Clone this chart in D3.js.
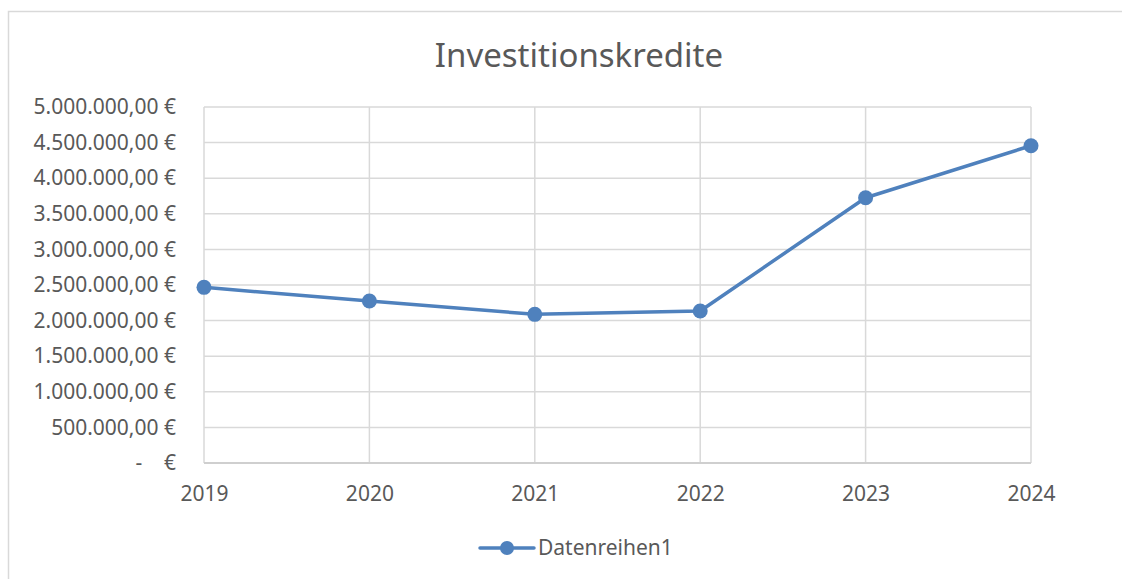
<!DOCTYPE html>
<html>
<head>
<meta charset="utf-8">
<script src="https://cdn.jsdelivr.net/npm/d3@7"></script>
<style>
  body { margin: 0; background: #fff; }
  svg text { font-family: "Noto Sans", "Open Sans", sans-serif; fill: #595959; }
</style>
</head>
<body>
<div id="chart"></div>
<script>
// data
var years = ["2019", "2020", "2021", "2022", "2023", "2024"];
var values = [2467000, 2275000, 2088000, 2135000, 3726000, 4456000];
var yTicks = [0, 500000, 1000000, 1500000, 2000000, 2500000, 3000000, 3500000, 4000000, 4500000, 5000000];
var seriesName = "Datenreihen1";
var title = "Investitionskredite";

var width = 1122, height = 579;
var margin = { top: 107, right: 91, bottom: 116, left: 204 };
var color = "#4f81bd";
var labelSize = 21;

var svg = d3.select("#chart")
    .append("svg")
    .attr("width", width)
    .attr("height", height);

// chart frame (right and bottom edges are cut off in the picture)
svg.append("rect")
    .attr("x", 8.5).attr("y", 11.5)
    .attr("width", width).attr("height", height)
    .attr("fill", "none")
    .attr("stroke", "#d9d9d9")
    .attr("stroke-width", 1.5);

var x = d3.scalePoint()
    .domain(years)
    .range([margin.left, width - margin.right]);

var y = d3.scaleLinear()
    .domain([0, d3.max(yTicks)])
    .range([height - margin.bottom, margin.top]);

var de = d3.formatLocale({ decimal: ",", thousands: ".", grouping: [3], currency: ["", " €"] });
var euro = de.format("$,.2f");

// horizontal gridlines
svg.append("g")
    .selectAll("line")
    .data(yTicks)
    .enter()
    .append("line")
    .attr("x1", x.range()[0]).attr("x2", x.range()[1])
    .attr("y1", function (d) { return y(d); })
    .attr("y2", function (d) { return y(d); })
    .attr("stroke", "#d9d9d9")
    .attr("stroke-width", 1.5);

// vertical gridlines
svg.append("g")
    .selectAll("line")
    .data(years)
    .enter()
    .append("line")
    .attr("x1", function (d) { return x(d); })
    .attr("x2", function (d) { return x(d); })
    .attr("y1", y(5000000)).attr("y2", y(0))
    .attr("stroke", "#d9d9d9")
    .attr("stroke-width", 1.5);

// x axis line
svg.append("line")
    .attr("x1", x.range()[0]).attr("x2", x.range()[1])
    .attr("y1", y(0)).attr("y2", y(0))
    .attr("stroke", "#cfcfcf")
    .attr("stroke-width", 2);

// Y axis labels
var yAxis = svg.append("g")
    .attr("transform", "translate(176,0)")
    .call(d3.axisLeft(y).tickValues(yTicks).tickSize(0).tickPadding(0)
        .tickFormat(function (d) { return d === 0 ? "-    €" : euro(d); }));
yAxis.select(".domain").remove();
yAxis.selectAll("text")
    .attr("font-size", labelSize)
    .attr("fill", "#595959")
    .style("font-family", "'Noto Sans', sans-serif")
    .style("white-space", "pre");

// X axis labels
var xAxis = svg.append("g")
    .attr("transform", "translate(0," + y(0) + ")")
    .call(d3.axisBottom(x).tickSize(0).tickPadding(0));
xAxis.select(".domain").remove();
xAxis.selectAll("text")
    .attr("dy", null)
    .attr("y", 38)
    .attr("font-size", labelSize)
    .attr("fill", "#595959")
    .style("font-family", "'Noto Sans', sans-serif");

// line
var line = d3.line()
    .x(function (d, i) { return x(years[i]); })
    .y(function (d) { return y(d); });

svg.append("path")
    .datum(values)
    .attr("d", line)
    .attr("fill", "none")
    .attr("stroke", color)
    .attr("stroke-width", 3.5)
    .attr("stroke-linejoin", "round");

svg.append("g")
    .selectAll("circle")
    .data(values)
    .enter()
    .append("circle")
    .attr("cx", function (d, i) { return x(years[i]); })
    .attr("cy", function (d) { return y(d); })
    .attr("r", 7.5)
    .attr("fill", color);

// title
svg.append("text")
    .attr("x", 579)
    .attr("y", 67)
    .attr("text-anchor", "middle")
    .attr("font-size", 33)
    .text(title);

// legend
var legend = svg.append("g").attr("transform", "translate(480,548)");
legend.append("line")
    .attr("x1", 0).attr("x2", 54)
    .attr("stroke", color)
    .attr("stroke-width", 3.5)
    .attr("stroke-linecap", "round");
legend.append("circle")
    .attr("cx", 27).attr("r", 7)
    .attr("fill", color);
legend.append("text")
    .attr("x", 58)
    .attr("dy", "0.35em")
    .attr("font-size", labelSize)
    .text(seriesName);
</script>
</body>
</html>
